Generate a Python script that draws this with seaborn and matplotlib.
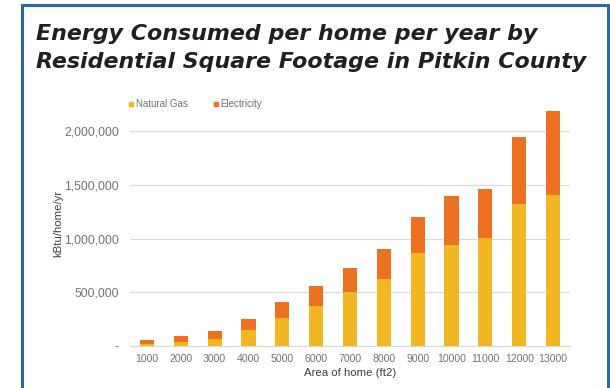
import matplotlib
matplotlib.use("Agg")
import matplotlib.pyplot as plt
from matplotlib.patches import Rectangle
from matplotlib.lines import Line2D
import seaborn as sns
import pandas as pd

# Home size categories (ft2) and annual energy use per home (kBtu/home/yr)
areas = ["1000", "2000", "3000", "4000", "5000", "6000", "7000",
         "8000", "9000", "10000", "11000", "12000", "13000"]
natural_gas = [20000, 35000, 62000, 146000, 264000, 372000, 500000,
               627000, 866000, 937000, 1006000, 1322000, 1406000]
electricity = [33000, 55000, 81000, 108000, 143000, 184000, 226000,
               273000, 335000, 462000, 459000, 624000, 779000]
y_ticks = [0, 500000, 1000000, 1500000, 2000000]
y_tick_labels = ["-", "500,000", "1,000,000", "1,500,000", "2,000,000"]

GAS = "#F2B824"
ELEC = "#EE7121"
TXT = "#737373"
GRID = "#D9D9D9"

df = pd.DataFrame({"area": areas, "gas": natural_gas, "elec": electricity})
df["total"] = df["gas"] + df["elec"]

sns.set_theme(style="white")
plt.rcParams["font.family"] = ["Liberation Sans", "DejaVu Sans"]

fig = plt.figure(figsize=(6.10, 3.88), dpi=100)
ax = fig.add_axes([130 / 610, 1 - 346 / 388, 440 / 610, 246 / 388])

# stacked bars: electricity sits on top of natural gas
sns.barplot(data=df, x="area", y="total", color=ELEC, saturation=1,
            width=0.42, ax=ax, order=areas, linewidth=0)
sns.barplot(data=df, x="area", y="gas", color=GAS, saturation=1,
            width=0.42, ax=ax, order=areas, linewidth=0)

ax.set_xlim(-0.5, len(areas) - 0.5)
ax.set_ylim(0, 2290000)
ax.set_yticks(y_ticks)
ax.set_yticklabels(y_tick_labels)
ax.yaxis.grid(True, color=GRID, linewidth=0.8)
ax.set_axisbelow(True)
for s in ["top", "right", "left"]:
    ax.spines[s].set_visible(False)
ax.spines["bottom"].set_color(GRID)
ax.spines["bottom"].set_linewidth(0.8)
ax.tick_params(axis="both", length=0, colors=TXT)
ax.tick_params(axis="x", pad=6, labelsize=7.6)
ax.tick_params(axis="y", pad=8, labelsize=8.8)

ax.set_xlabel("Area of home (ft2)", fontsize=8.2, color="#404040", labelpad=3)
ax.set_ylabel("kBtu/home/yr", fontsize=8.2, color="#404040", labelpad=1)

handles = [
    Line2D([], [], marker="s", linestyle="none", markersize=3,
           markerfacecolor=GAS, markeredgecolor=GAS, label="Natural Gas"),
    Line2D([], [], marker="s", linestyle="none", markersize=3,
           markerfacecolor=ELEC, markeredgecolor=ELEC, label="Electricity"),
]
fig.legend(handles=handles, loc="center left",
           bbox_to_anchor=(128 / 610, 1 - 104 / 388), ncol=2, frameon=False,
           fontsize=7, labelcolor=TXT, handlelength=0.6, handletextpad=0.2,
           columnspacing=2.6, borderaxespad=0, borderpad=0)

# two-line title
title_font = dict(family=["DejaVu Sans"], fontweight="bold",
                  fontstyle="italic", fontsize=15.9, color="#231F20")
fig.text(36 / 610, 1 - 34 / 388, "Energy Consumed per home per year by",
         ha="left", va="center", **title_font)
fig.text(36 / 610, 1 - 62 / 388, "Residential Square Footage in Pitkin County",
         ha="left", va="center", **title_font)

# blue panel frame
fig.patches.append(Rectangle((22 / 610, -0.05), 586 / 610, 1.05 - 5 / 388,
                             transform=fig.transFigure, fill=False,
                             edgecolor="#2A6AA3", linewidth=2.2))

fig.savefig("out.png", dpi=100, facecolor="white")
